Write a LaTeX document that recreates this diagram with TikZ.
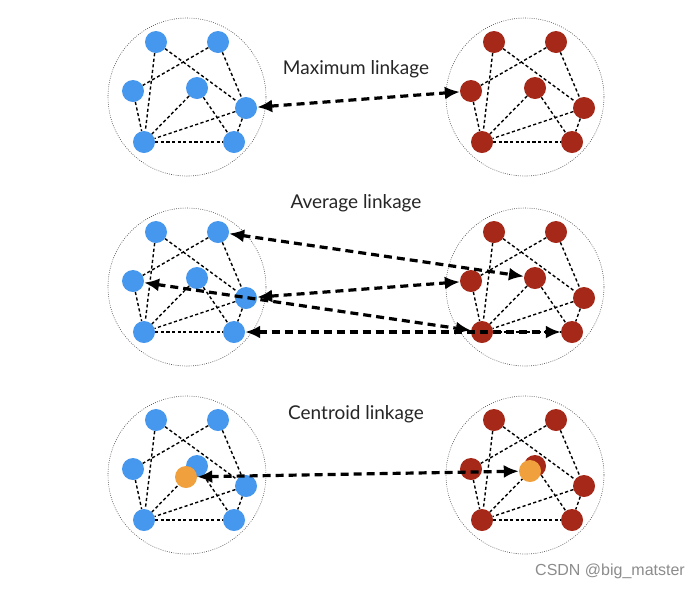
\documentclass[tikz,border=0pt]{standalone}
\usepackage{fontspec}
\setmainfont{Lato}
\newfontfamily\wmfont{Liberation Sans}
\usetikzlibrary{arrows.meta}
\definecolor{nblue}{RGB}{70,152,238}
\definecolor{nred}{RGB}{165,40,25}
\definecolor{norange}{RGB}{240,160,60}
\newcommand\mycluster[4]{%
  \draw[ring] (#2,#3) circle (79pt);
  \begin{scope}[shift={(#2,#3)}]
    \node[pt,fill=#4] (#1A) at (-31,-55) {};
    \node[pt,fill=#4] (#1B) at (31,-55) {};
    \node[pt,fill=#4] (#1C) at (-54,-6) {};
    \node[pt,fill=#4] (#1D) at (10,-9) {};
    \node[pt,fill=#4] (#1E) at (59,11) {};
    \node[pt,fill=#4] (#1F) at (-43,45) {};
    \node[pt,fill=#4] (#1G) at (47,45) {};
  \end{scope}
  \draw[cedge] (#1A) -- (#1F);
  \draw[cedge] (#1A) -- (#1E);
  \draw[cedge] (#1B) -- (#1C);
  \draw[cedge] (#1B) -- (#1E);
  \draw[cedge] (#1C) -- (#1F);
  \draw[cedge] (#1D) -- (#1F);
  \draw[cedge] (#1D) -- (#1G);
  \draw[cedge] (#1E) -- (#1F);
  \draw[cedge] (#1E) -- (#1G);
  \draw[cedge] (#1F) -- (#1G);
}
\begin{document}
\begin{tikzpicture}[x=1pt,y=-1pt,
  pt/.style={circle,inner sep=0pt,minimum size=22pt,draw=none},
  cedge/.style={line width=1.4pt,dash pattern=on 3.2pt off 2.4pt,black},
  link/.style={line width=3.2pt,dash pattern=on 8pt off 5pt,black,
    {Latex[length=15pt,width=13pt]}-{Latex[length=15pt,width=13pt]}},
  ring/.style={line width=0.6pt,dash pattern=on 0.8pt off 1.4pt,black!70},
  lbl/.style={font=\fontsize{19}{22}\selectfont,text=black!85}]
\useasboundingbox (0,0) rectangle (700,590);
\fill[white] (0,0) rectangle (700,590);
% top row
\mycluster{TL}{187}{97}{nblue}
\mycluster{TR}{525}{97}{nred}
% middle row
\mycluster{ML}{187}{287}{nblue}
\mycluster{MR}{525}{287}{nred}
% bottom row
\mycluster{BL}{187}{475}{nblue}
\mycluster{BR}{525}{475}{nred}
\node[pt,fill=norange] (BLO) at (186,477) {};
\node[pt,fill=norange] (BRO) at (530,471) {};
% labels
\node[lbl] (t1) at (356,69) {Maximum linkage};
\node[lbl] (t2) at (356,203) {Average linkage};
\node[lbl] (t3) at (356,414) {Centroid linkage};
% links
\draw[link] (TLE) -- (TRC);
\draw[link] (MLB) -- (MRD);
\draw[link] (MLE) -- (MRC);
\draw[link] (MLC) -- (MRF);
\draw[link] (MLG) -- (MRG);
\draw[link] (BLO) -- (BRO);
% watermark
\node[font=\wmfont\fontsize{16}{18}\selectfont,text=black!45] (wm) at (610,571) {CSDN @big\_matster};
\end{tikzpicture}
\end{document}
